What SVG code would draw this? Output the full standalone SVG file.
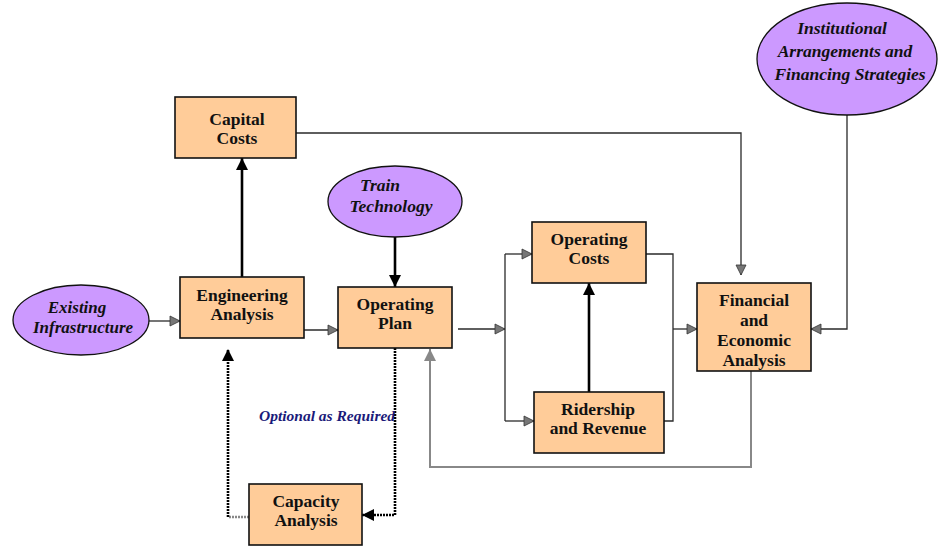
<svg xmlns="http://www.w3.org/2000/svg" width="939" height="548" viewBox="0 0 939 548">
<style>
.box{fill:#FFCC99;stroke:#111;stroke-width:1.6}
.ell{fill:#CC99FF;stroke:#111;stroke-width:1.3}
.bt{font-family:"Liberation Serif","Times New Roman",serif;font-weight:bold;font-size:17.5px;fill:#111;text-anchor:middle}
.et{font-family:"Liberation Serif","Times New Roman",serif;font-weight:bold;font-style:italic;font-size:17.5px;fill:#111;text-anchor:middle}
.thin{fill:none;stroke:#2a2a2a;stroke-width:1.3}
.thick{fill:none;stroke:#000;stroke-width:2.6}
.loop{fill:none;stroke:#888;stroke-width:2}
.dot{fill:none;stroke:#000;stroke-width:2.6;stroke-dasharray:2,1}
.dotg{fill:none;stroke:#888;stroke-width:2.6;stroke-dasharray:2,1}
</style>
<defs>
<marker id="ag" markerUnits="userSpaceOnUse" markerWidth="12" markerHeight="12" refX="10" refY="5" orient="auto" viewBox="-1 -1 12 12">
<path d="M0,0 L10,5 L0,10 z" fill="#777" stroke="#333" stroke-width="0.8"/>
</marker>
<marker id="ab" markerUnits="userSpaceOnUse" markerWidth="14" markerHeight="14" refX="12" refY="6" orient="auto" viewBox="0 0 14 14">
<path d="M0,0 L12,6 L0,12 z" fill="#000"/>
</marker>
<marker id="agl" markerUnits="userSpaceOnUse" markerWidth="14" markerHeight="14" refX="12" refY="6" orient="auto" viewBox="0 0 14 14">
<path d="M0,0 L12,6 L0,12 z" fill="#888"/>
</marker>
<clipPath id="finclip"><rect x="697" y="283" width="114" height="87"/></clipPath>
</defs>

<g id="connectors">
<path class="thin" d="M149,321 H180" marker-end="url(#ag)"/>
<path class="thin" d="M304,330 H338" marker-end="url(#ag)"/>
<path class="thick" d="M242,277 V158" marker-end="url(#ab)"/>
<path class="thick" d="M395,237 V287" marker-end="url(#ab)"/>
<path class="thin" d="M458,329 H505" marker-end="url(#ag)"/>
<path class="thin" d="M505,254 V421"/>
<path class="thin" d="M505,254 H532" marker-end="url(#ag)"/>
<path class="thin" d="M505,421 H534" marker-end="url(#ag)"/>
<path class="thick" d="M589,392 V283" marker-end="url(#ab)"/>
<path class="thin" d="M646,254 H673 V421 H664"/>
<path class="thin" d="M673,329 H697" marker-end="url(#ag)"/>
<path class="thin" d="M296,133 H741 V275" marker-end="url(#ag)"/>
<path class="thin" d="M847,115 V329 H811" marker-end="url(#ag)"/>
<path class="loop" d="M751,371 V467 H430 V349" marker-end="url(#agl)"/>
<path class="dot" d="M395,348 V515 H362" marker-end="url(#ab)"/>
<path class="dotg" d="M249,517 H228"/>
<path class="dot" d="M228,517 V349" marker-end="url(#ab)"/>
</g>

<g id="capital-costs">
<rect class="box" x="175" y="97" width="121" height="61"/>
<text class="bt" x="237" y="125">Capital</text>
<text class="bt" x="237" y="144">Costs</text>
</g>

<g id="engineering-analysis">
<rect class="box" x="180" y="277" width="124" height="61"/>
<text class="bt" x="242" y="301">Engineering</text>
<text class="bt" x="242" y="320">Analysis</text>
</g>

<g id="operating-plan">
<rect class="box" x="338" y="287" width="114" height="61"/>
<text class="bt" x="395" y="310">Operating</text>
<text class="bt" x="395" y="329">Plan</text>
</g>

<g id="operating-costs">
<rect class="box" x="532" y="222" width="114" height="61"/>
<text class="bt" x="589" y="245">Operating</text>
<text class="bt" x="589" y="264">Costs</text>
</g>

<g id="ridership-revenue">
<rect class="box" x="534" y="392" width="130" height="61"/>
<text class="bt" x="598" y="415">Ridership</text>
<text class="bt" x="598" y="434">and Revenue</text>
</g>

<g id="financial-economic">
<rect class="box" x="697" y="283" width="114" height="88"/>
<g clip-path="url(#finclip)">
<text class="bt" x="754" y="306">Financial</text>
<text class="bt" x="754" y="326">and</text>
<text class="bt" x="754" y="346">Economic</text>
<text class="bt" x="754" y="366">Analysis</text>
</g>
</g>

<g id="capacity-analysis">
<rect class="box" x="249" y="484" width="113" height="61"/>
<text class="bt" x="306" y="507">Capacity</text>
<text class="bt" x="306" y="526">Analysis</text>
</g>

<g id="existing-infrastructure">
<ellipse class="ell" cx="81" cy="320" rx="68" ry="35"/>
<text class="et" x="77" y="313" style="font-size:17px">Existing</text>
<text class="et" x="83" y="333" style="font-size:17px">Infrastructure</text>
</g>

<g id="train-technology">
<ellipse class="ell" cx="395" cy="201.5" rx="67" ry="35.5"/>
<text class="et" x="380" y="191">Train</text>
<text class="et" x="391" y="212">Technology</text>
</g>

<g id="institutional">
<ellipse class="ell" cx="847" cy="59" rx="90" ry="56"/>
<text class="et" x="842" y="34">Institutional</text>
<text class="et" x="845" y="57">Arrangements and</text>
<text class="et" x="850" y="80">Financing Strategies</text>
</g>

<g id="label-optional">
<text x="259" y="421" font-family="Liberation Serif,'Times New Roman',serif" font-weight="bold" font-style="italic" font-size="15.5" fill="#1a1a7a">Optional as Required</text>
</g>
</svg>
